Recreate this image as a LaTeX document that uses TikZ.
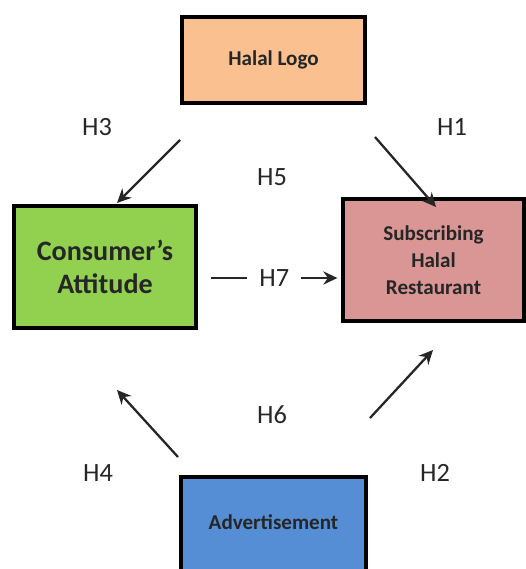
\documentclass[tikz,border=0pt]{standalone}
\usepackage{fontspec}
\setmainfont{Carlito}
\usetikzlibrary{arrows.meta, positioning}
\definecolor{logocolor}{RGB}{250,192,144}
\definecolor{attitudecolor}{RGB}{146,208,80}
\definecolor{restaurantcolor}{RGB}{217,150,148}
\definecolor{advertcolor}{RGB}{85,142,213}
\definecolor{textcolor}{RGB}{38,38,38}

\begin{document}
\begin{tikzpicture}[
    factor/.style={rectangle, draw, line width=2.4pt, align=center, text=textcolor, font=\bfseries\fontsize{12}{15.3}\selectfont},
    link/.style={-{Stealth[length=8pt, width=7.5pt]}, line width=1.3pt, draw=black!85},
    hyp/.style={text=textcolor, font=\fontsize{15}{18}\selectfont}
]
    \useasboundingbox (0,0) rectangle (10.52,-11.38);
    \clip (0,0) rectangle (10.52,-11.38);

    % Constructs
    \node[factor, fill=logocolor, minimum width=3.66cm, minimum height=1.72cm] (logo) at (5.47,-1.2) {Halal Logo};
    \node[factor, fill=attitudecolor, minimum width=3.64cm, minimum height=2.44cm, font=\bfseries\fontsize{16}{19}\selectfont] (attitude) at (2.1,-5.34) {Consumer’s\\Attitude};
    \node[factor, fill=restaurantcolor, minimum width=3.62cm, minimum height=2.44cm] (restaurant) at (8.67,-5.2) {Subscribing\\Halal\\Restaurant};
    \node[factor, fill=advertcolor, minimum width=3.7cm, minimum height=2.3cm, text depth=0.5cm] (advert) at (5.47,-10.69) {Advertisement};

    % Arrow ends
    \coordinate (logoA) at (3.6,-2.8);
    \coordinate (attA) at (2.34,-4.06);
    \coordinate (logoB) at (7.5,-2.74);
    \coordinate (resB) at (8.72,-4.14);
    \coordinate (advA) at (3.56,-9.14);
    \coordinate (attB) at (2.34,-7.8);
    \coordinate (advB) at (7.4,-8.36);
    \coordinate (resA) at (8.66,-7.0);

    % Paths
    \draw[link] (logoA) -- (attA);
    \draw[link] (logoB) -- (resB);
    \draw[link] (advA) -- (attB);
    \draw[link] (advB) -- (resA);
    \draw[link] ([xshift=0.26cm, yshift=-0.22cm]attitude.east) -- node[hyp, fill=white, inner xsep=7pt, inner ysep=1pt] (h7) {H7} ([xshift=-0.07cm, yshift=-0.36cm]restaurant.west);

    % Hypotheses
    \node[hyp] (h3) at (1.94,-2.54) {H3};
    \node[hyp] (h1) at (9.04,-2.54) {H1};
    \node[hyp] (h5) at (5.44,-3.54) {H5};
    \node[hyp] (h6) at (5.44,-8.3) {H6};
    \node[hyp] (h4) at (1.96,-9.46) {H4};
    \node[hyp] (h2) at (8.7,-9.46) {H2};

\end{tikzpicture}
\end{document}
